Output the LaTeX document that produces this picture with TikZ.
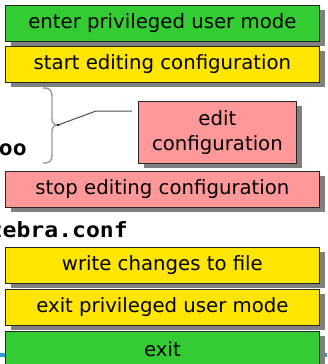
\documentclass[tikz,border=0pt]{standalone}
\usepackage{fontspec}
\setmainfont{DejaVu Sans}
\newfontfamily\codefont[FakeStretch=1.1]{DejaVu Sans Mono}
\usetikzlibrary{shadows}
\definecolor{stepgreen}{HTML}{33CC33}
\definecolor{stepyellow}{HTML}{FFE600}
\definecolor{steppink}{HTML}{FF9999}
\definecolor{shadowgray}{HTML}{808080}
\definecolor{slideblue}{HTML}{2A9FD0}
\tikzset{stepbox/.style = {draw=black!85, line width=0.8pt, anchor=north west,
                           minimum width=314pt, minimum height=36pt, inner sep=0pt,
                           font=\fontsize{19.7}{25.5}\selectfont,
                           drop shadow={shadow xshift=6pt, shadow yshift=-5pt,
                                        fill=shadowgray, opacity=1}},
         cmd/.style = {font=\codefont\bfseries\fontsize{21}{24}\selectfont,
                       inner sep=0pt}}

\begin{document}
\begin{tikzpicture}[x=1pt, y=-1pt]
  \useasboundingbox (0,0) rectangle (327,364);
  \draw [slideblue, line width=4pt] (0,355) -- (327,355);

  \node [stepbox, fill=stepgreen] (enter) at (5,5) {enter privileged user mode};
  \node [stepbox, fill=stepyellow] (start) at (5,46) {start editing configuration};
  \node [stepbox, fill=steppink, minimum width=158pt, minimum height=62pt,
         align=center] (edit) at (138,101) {edit\\configuration};
  \node [stepbox, fill=steppink] (stop) at (5,171) {stop editing configuration};
  \node [stepbox, fill=stepyellow] (write) at (5,247) {write changes to file};
  \node [stepbox, fill=stepyellow] (leave) at (5,289) {exit privileged user mode};
  \node [stepbox, fill=stepgreen] (exit) at (5,331) {exit};

  \node [cmd, anchor=base east] (foo) at (27,155) {foo};
  \node [cmd, anchor=base east] (conf) at (128,237) {zebra.conf};

  % brace and pointer to the edit step
  \coordinate (tip) at (58,125);
  \coordinate (knee) at (96,111);
  \coordinate (lineend) at (132,111);
  \draw [gray!80, line width=1.4pt] (43,88) .. controls (50,88) and (52,90) .. (52,97)
        -- (52,118) .. controls (52,123) and (54,125) .. (tip)
        .. controls (54,125) and (52,127) .. (52,132)
        -- (52,155) .. controls (52,161) and (50,163) .. (43,163);
  \draw [black!70, line width=1pt] (tip) -- (knee) -- (lineend);
  \fill (tip) circle (1.2pt);
\end{tikzpicture}
\end{document}
